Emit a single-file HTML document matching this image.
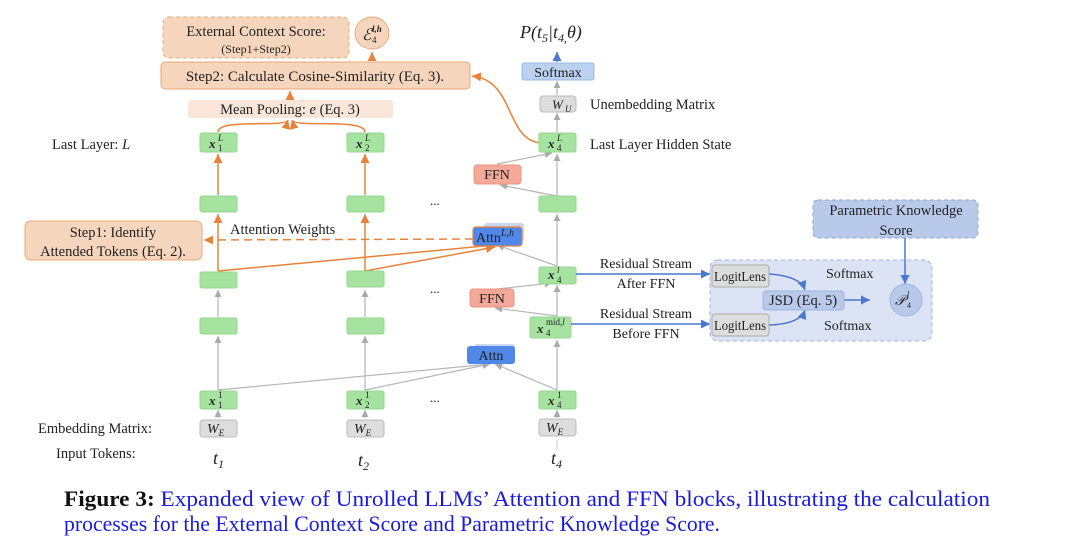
<!DOCTYPE html>
<html><head><meta charset="utf-8"><style>
body{margin:0;background:#fff;}
svg{display:block}
text{font-family:"Liberation Serif",serif;fill:#222}
.g{fill:#a6e3a1;stroke:#95d690}
.m{font-style:italic;font-weight:bold}
</style></head><body>
<svg width="1080" height="547" viewBox="0 0 1080 547" xmlns="http://www.w3.org/2000/svg">
<defs>
<marker id="ag" markerWidth="8" markerHeight="8" refX="6" refY="3" orient="auto"><path d="M0,0 L6,3 L0,6 z" fill="#aaa"/></marker>
<marker id="ao" markerWidth="8" markerHeight="8" refX="6" refY="3" orient="auto"><path d="M0,0 L6,3 L0,6 z" fill="#e8823a"/></marker>
<marker id="ab" markerWidth="8" markerHeight="8" refX="6" refY="3" orient="auto"><path d="M0,0 L6,3 L0,6 z" fill="#4a78d0"/></marker>
</defs>

<!-- gray connectors -->
<g stroke="#b5b5b5" stroke-width="1.2" fill="none" marker-end="url(#ag)">
<line x1="218" y1="390" x2="218" y2="336"/><line x1="218" y1="317" x2="218" y2="290"/>
<line x1="365" y1="390" x2="365" y2="336"/><line x1="365" y1="317" x2="365" y2="290"/>
<line x1="218" y1="418" x2="218" y2="410"/><line x1="365" y1="418" x2="365" y2="410"/><line x1="557" y1="418" x2="557" y2="410"/>
<line x1="557" y1="390" x2="557" y2="340"/><line x1="557" y1="316" x2="557" y2="285"/>
<line x1="557" y1="266" x2="557" y2="214"/><line x1="557" y1="196" x2="557" y2="154"/>
<line x1="557" y1="132" x2="557" y2="113"/><line x1="557" y1="95" x2="557" y2="81"/>
<line x1="557" y1="390" x2="495" y2="364"/><line x1="218" y1="390" x2="490" y2="364"/><line x1="365" y1="390" x2="490" y2="364"/>
<line x1="557" y1="316" x2="495" y2="308"/><line x1="557" y1="266" x2="497" y2="245"/>
<line x1="557" y1="196" x2="500" y2="185"/>
<line x1="497" y1="289" x2="552" y2="283"/><line x1="497" y1="164" x2="552" y2="153"/>
</g>
<line x1="557" y1="451" x2="557" y2="440" stroke="#ccc"/>
<!-- orange connectors -->
<g stroke="#e8823a" stroke-width="1.5" fill="none" marker-end="url(#ao)">
<line x1="218" y1="271" x2="218" y2="214"/><line x1="365" y1="271" x2="365" y2="214"/>
<line x1="218" y1="195" x2="218" y2="154"/><line x1="365" y1="195" x2="365" y2="154"/>
<line x1="218" y1="271" x2="495" y2="245"/><line x1="365" y1="271" x2="495" y2="247"/>
<line x1="290" y1="99" x2="290" y2="91"/><line x1="372" y1="61" x2="372" y2="52"/>
<path d="M541,143 C505,140 515,80 472,76"/>
<line x1="473" y1="239" x2="204" y2="240" stroke-dasharray="8,5"/>
</g>
<line x1="557" y1="62" x2="557" y2="52" stroke="#4a78d0" stroke-width="1.5" marker-end="url(#ab)"/>

<!-- top orange boxes -->
<rect x="163" y="17" width="186" height="41" rx="6" fill="#f5d6bd" stroke="#e9a877" stroke-dasharray="4,3"/>
<text x="256" y="36" font-size="14.5" text-anchor="middle">External Context Score:</text>
<text x="256" y="53" font-size="12" text-anchor="middle">(Step1+Step2)</text>
<ellipse cx="372" cy="33" rx="17" ry="16" fill="#f5d6bd" stroke="#e9a877"/>
<text x="362" y="40" font-size="16" font-style="italic">ℰ</text><text x="372" y="32" font-size="9" font-style="italic" font-weight="bold">l,h</text><text x="372" y="43" font-size="9">4</text>
<rect x="161" y="62" width="309" height="27" rx="4" fill="#f5d6bd" stroke="#e9a877"/>
<text x="315" y="81" font-size="15" text-anchor="middle">Step2: Calculate Cosine-Similarity (Eq. 3).</text>
<rect x="188" y="100" width="205" height="18" rx="3" fill="#fae6d8"/>
<text x="290" y="114" font-size="14.5" text-anchor="middle">Mean Pooling: <tspan font-style="italic">e</tspan> (Eq. 3)</text>
<g stroke="#e8823a" stroke-width="1.5" fill="none" marker-end="url(#ao)">
<path d="M218,132 C218,118 286,128 288,120"/><path d="M365,132 C365,118 294,128 292,120"/>
</g>
<rect x="25" y="221" width="177" height="39" rx="6" fill="#f5d6bd" stroke="#e9a877"/>
<text x="113" y="237" font-size="14.5" text-anchor="middle">Step1: Identify</text>
<text x="113" y="256" font-size="14.5" text-anchor="middle">Attended Tokens (Eq. 2).</text>
<text x="230" y="234" font-size="14.5">Attention Weights</text>

<!-- right top -->
<text x="520" y="38" font-size="18" font-style="italic" font-family="DejaVu Serif">P(t<tspan font-size="12" dy="4">5</tspan><tspan dy="-4">|t</tspan><tspan font-size="12" dy="4">4,</tspan><tspan dy="-4">θ)</tspan></text>
<rect x="522" y="63" width="72" height="17" rx="2" fill="#bcd0ef" stroke="#9db8e3"/>
<text x="558" y="77" font-size="14" text-anchor="middle">Softmax</text>
<rect x="540" y="96" width="36" height="16" rx="3" fill="#ddd" stroke="#bbb"/>
<text x="552" y="109" font-size="13" font-style="italic">W</text><text x="565" y="112" font-size="9" font-style="italic">U</text>
<text x="590" y="109" font-size="14.5">Unembedding Matrix</text>
<text x="590" y="149" font-size="14.5">Last Layer Hidden State</text>
<text x="52" y="149" font-size="14.5">Last Layer: <tspan font-style="italic">L</tspan></text>
<text x="38" y="433" font-size="14.5">Embedding Matrix:</text>
<text x="56" y="458" font-size="14.5">Input Tokens:</text>

<!-- green boxes -->
<g>
<rect class="g" x="200" y="133" width="37" height="19" rx="2"/><rect class="g" x="347" y="133" width="37" height="19" rx="2"/><rect class="g" x="539" y="133" width="37" height="19" rx="2"/>
<rect class="g" x="200" y="196" width="37" height="16" rx="2"/><rect class="g" x="347" y="196" width="37" height="16" rx="2"/><rect class="g" x="539" y="196" width="37" height="16" rx="2"/>
<rect class="g" x="200" y="272" width="37" height="16" rx="2"/><rect class="g" x="347" y="271" width="37" height="16" rx="2"/><rect class="g" x="539" y="267" width="37" height="17" rx="2"/>
<rect class="g" x="200" y="318" width="37" height="16" rx="2"/><rect class="g" x="347" y="318" width="37" height="16" rx="2"/><rect class="g" x="530" y="317" width="41" height="21" rx="2"/>
<rect class="g" x="200" y="391" width="37" height="18" rx="2"/><rect class="g" x="347" y="391" width="37" height="18" rx="2"/><rect class="g" x="539" y="391" width="37" height="18" rx="2"/>
</g>
<g font-size="13">
<text x="209" y="148" class="m">x</text><text x="218" y="141" font-size="9" font-style="italic">L</text><text x="218" y="151" font-size="9">1</text>
<text x="356" y="148" class="m">x</text><text x="365" y="141" font-size="9" font-style="italic">L</text><text x="365" y="151" font-size="9">2</text>
<text x="548" y="148" class="m">x</text><text x="557" y="141" font-size="9" font-style="italic">L</text><text x="557" y="151" font-size="9">4</text>
<text x="548" y="279" class="m">x</text><text x="557" y="273" font-size="9" font-style="italic">l</text><text x="557" y="283" font-size="9">4</text>
<text x="537" y="333" class="m">x</text><text x="546" y="325" font-size="9">mid,<tspan font-style="italic">l</tspan></text><text x="546" y="336" font-size="9">4</text>
<text x="209" y="405" class="m">x</text><text x="218" y="398" font-size="9">1</text><text x="218" y="408" font-size="9">1</text>
<text x="356" y="405" class="m">x</text><text x="365" y="398" font-size="9">1</text><text x="365" y="408" font-size="9">2</text>
<text x="548" y="405" class="m">x</text><text x="557" y="398" font-size="9">1</text><text x="557" y="408" font-size="9">4</text>
</g>
<!-- W_E -->
<g>
<rect x="200" y="420" width="37" height="17" rx="3" fill="#ddd" stroke="#bbb"/><rect x="347" y="420" width="37" height="17" rx="3" fill="#ddd" stroke="#bbb"/><rect x="539" y="419" width="37" height="17" rx="3" fill="#ddd" stroke="#bbb"/>
<text x="207" y="433" font-size="14" font-style="italic">W<tspan font-size="9" dy="3">E</tspan></text>
<text x="354" y="433" font-size="14" font-style="italic">W<tspan font-size="9" dy="3">E</tspan></text>
<text x="546" y="432" font-size="14" font-style="italic">W<tspan font-size="9" dy="3">E</tspan></text>
</g>
<text x="213" y="464" font-size="18" font-style="italic" font-family="DejaVu Serif">t<tspan font-size="12" dy="4">1</tspan></text>
<text x="358" y="466" font-size="18" font-style="italic" font-family="DejaVu Serif">t<tspan font-size="12" dy="4">2</tspan></text>
<text x="551" y="464" font-size="18" font-style="italic" font-family="DejaVu Serif">t<tspan font-size="12" dy="4">4</tspan></text>
<g font-size="13"><text x="430" y="205">...</text><text x="430" y="293">...</text><text x="430" y="402">...</text></g>

<!-- FFN / Attn -->
<rect x="474" y="165" width="47" height="19" rx="3" fill="#f3a898" stroke="#eb9585"/><text x="497" y="179" font-size="14" text-anchor="middle">FFN</text>
<rect x="470" y="289" width="44" height="18" rx="3" fill="#f3a898" stroke="#eb9585"/><text x="492" y="303" font-size="14" text-anchor="middle">FFN</text>
<rect x="484" y="223" width="40" height="19" rx="3" fill="#c9d7f0"/>
<rect x="473" y="227" width="49" height="19" rx="3" fill="#4f88e8" stroke="#e8823a" stroke-width="1.2"/>
<text x="476" y="242" font-size="14">Attn<tspan font-size="10" font-style="italic" dy="-6">L,h</tspan></text>
<rect x="474" y="344" width="41" height="17" rx="3" fill="#c9d7f0"/>
<rect x="467" y="346" width="48" height="18" rx="3" fill="#4f88e8"/>
<text x="491" y="360" font-size="14" text-anchor="middle">Attn</text>

<!-- right panel -->
<rect x="813" y="200" width="165" height="38" rx="5" fill="#b8c9ea" stroke="#8ba6da" stroke-dasharray="4,3"/>
<text x="896" y="215" font-size="14.5" text-anchor="middle">Parametric Knowledge</text>
<text x="896" y="235" font-size="14.5" text-anchor="middle">Score</text>
<rect x="710" y="260" width="222" height="81" rx="8" fill="#dbe3f4" stroke="#9db5e0" stroke-dasharray="4,3"/>
<g stroke="#4a78d0" stroke-width="1.5" fill="none" marker-end="url(#ab)">
<line x1="576" y1="274" x2="710" y2="274"/><line x1="571" y1="324" x2="710" y2="324"/>
<path d="M769,274 Q800,276 805,290"/><path d="M769,325 Q800,324 805,310"/>
<line x1="844" y1="300" x2="870" y2="300"/><line x1="905" y1="238" x2="905" y2="284"/>
</g>
<rect x="712" y="265" width="57" height="22" rx="3" fill="#ddd" stroke="#aaa"/><text x="740" y="281" font-size="13.5" text-anchor="middle" textLength="52" lengthAdjust="spacingAndGlyphs">LogitLens</text>
<rect x="712" y="314" width="57" height="22" rx="3" fill="#ddd" stroke="#aaa"/><text x="740" y="330" font-size="13.5" text-anchor="middle" textLength="52" lengthAdjust="spacingAndGlyphs">LogitLens</text>
<rect x="763" y="291" width="81" height="19" rx="3" fill="#b8c9ea" stroke="#9db5e0"/><text x="803" y="305" font-size="14.5" text-anchor="middle">JSD (Eq. 5)</text>
<circle cx="906" cy="300" r="16" fill="#b8c9ea" stroke="#9db5e0"/>
<text x="895" y="305" font-size="14" font-style="italic">𝒫</text><text x="907" y="297" font-size="8" font-style="italic">l</text><text x="907" y="308" font-size="8">4</text>
<text x="826" y="278" font-size="14">Softmax</text><text x="824" y="330" font-size="14">Softmax</text>
<text x="646" y="268" font-size="14" text-anchor="middle">Residual Stream</text>
<text x="646" y="288" font-size="14" text-anchor="middle">After FFN</text>
<text x="646" y="318" font-size="14" text-anchor="middle">Residual Stream</text>
<text x="646" y="338" font-size="14" text-anchor="middle">Before FFN</text>

<!-- caption -->
<text x="64" y="506" font-size="22" textLength="926" lengthAdjust="spacingAndGlyphs" style="fill:#1a1adf"><tspan font-weight="bold" style="fill:#111">Figure 3:</tspan> Expanded view of Unrolled LLMs’ Attention and FFN blocks, illustrating the calculation</text>
<text x="64" y="531" font-size="22" textLength="656" lengthAdjust="spacingAndGlyphs" style="fill:#1a1adf">processes for the External Context Score and Parametric Knowledge Score.</text>
</svg>
</body></html>
